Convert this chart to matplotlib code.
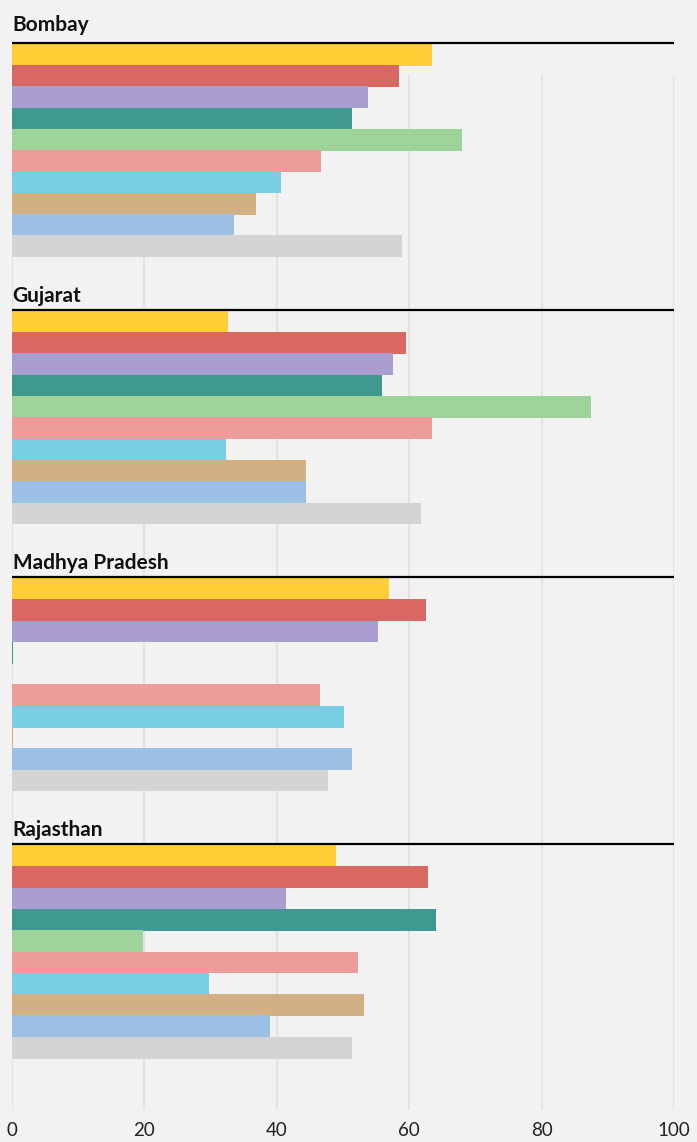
import matplotlib
matplotlib.use("Agg")
import matplotlib.pyplot as plt

# ---- data ----
regions = ["Bombay", "Gujarat", "Madhya Pradesh", "Rajasthan"]
colors = ["#FFCE34", "#DA6862", "#A99ECF", "#3F9990", "#9ED399",
          "#EE9B9C", "#78CFE3", "#D3B084", "#9CC1E5", "#D4D4D4"]
bombay = [63.4, 58.5, 53.8, 51.3, 68.0, 46.7, 40.7, 36.8, 33.5, 58.9]
gujarat = [32.7, 59.5, 57.6, 55.9, 87.4, 63.5, 32.3, 44.4, 44.4, 61.8]
madhya_pradesh = [57.0, 62.6, 55.3, 0.1, 0.0, 46.6, 50.2, 0.1, 51.3, 47.8]
rajasthan = [49.0, 62.9, 41.4, 64.1, 19.8, 52.2, 29.8, 53.1, 39.0, 51.4]
series = [bombay, gujarat, madhya_pradesh, rajasthan]
xticks = [0, 20, 40, 60, 80, 100]

# ---- layout ----
W, H, DPI = 697, 1142, 100
bg = "#F2F2F2"
px_left, px_right = 12, 674
px_top, px_bottom = 75, 1110
first_bar_top = 44
row_px = 21.3
pitch_rows = 12.54
title_off = [0.63, 0.42, 0.42, 0.42]

fig = plt.figure(figsize=(W / DPI, H / DPI), dpi=DPI, facecolor=bg)
ax = fig.add_axes([px_left / W, 1 - px_bottom / H,
                   (px_right - px_left) / W, (px_bottom - px_top) / H])
ax.set_facecolor(bg)

ytop = (px_top - first_bar_top) / row_px
ybot = (px_bottom - first_bar_top) / row_px
ax.set_xlim(0, 100)
ax.set_ylim(ybot, ytop)

for i, (name, vals) in enumerate(zip(regions, series)):
    base = i * pitch_rows
    ys = [base + j + 0.5 for j in range(len(vals))]
    ax.barh(ys, vals, height=1.02, color=colors, zorder=2, clip_on=False)
    ax.plot([0, 100], [base - 0.06, base - 0.06], color="#000000", lw=1.6,
            zorder=3, clip_on=False, solid_capstyle="butt")
    ax.text(0.1, base - title_off[i], name, family="Lato", fontweight="bold",
            fontsize=15, color="#111111", va="baseline", ha="left",
            clip_on=False)

ax.set_xticks(xticks)
ax.set_xticklabels([str(t) for t in xticks], family="Lato", fontsize=13.5,
                   color="#222222")
ax.set_yticks([])
ax.tick_params(axis="x", length=0, pad=9)
ax.grid(axis="x", color="#E3E3E3", lw=1.5, zorder=0)
ax.set_axisbelow(True)
for s in ax.spines.values():
    s.set_visible(False)

fig.savefig("out.png", dpi=DPI, facecolor=bg)
